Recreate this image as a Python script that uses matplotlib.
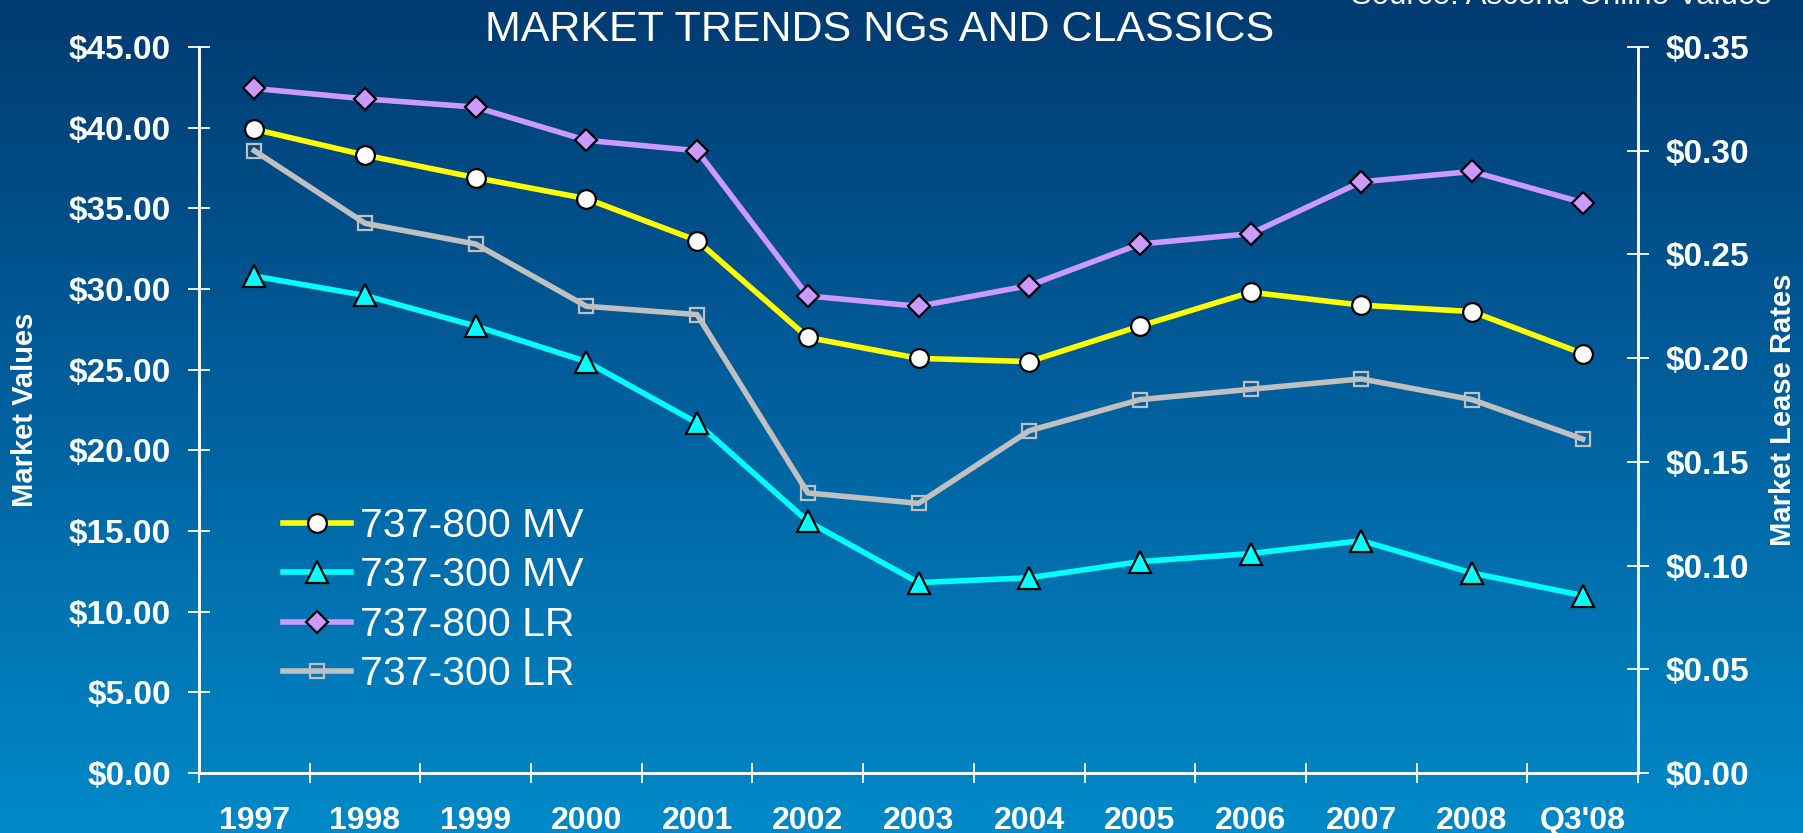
import numpy as np
import matplotlib
matplotlib.use("Agg")
import matplotlib.pyplot as plt
from matplotlib.colors import LinearSegmentedColormap

# ---- data ----
categories = ["1997", "1998", "1999", "2000", "2001", "2002", "2003",
              "2004", "2005", "2006", "2007", "2008", "Q3'08"]
mv_800 = [39.9, 38.3, 36.9, 35.6, 33.0, 27.0, 25.7, 25.5, 27.7, 29.8, 29.0, 28.6, 26.0]
mv_300 = [30.8, 29.6, 27.7, 25.5, 21.7, 15.6, 11.8, 12.1, 13.1, 13.6, 14.4, 12.4, 11.0]
lr_800 = [0.330, 0.325, 0.321, 0.305, 0.300, 0.230, 0.225, 0.235, 0.255, 0.260, 0.285, 0.290, 0.275]
lr_300 = [0.300, 0.265, 0.255, 0.225, 0.221, 0.135, 0.130, 0.165, 0.180, 0.185, 0.190, 0.180, 0.161]
left_ticks = [0, 5, 10, 15, 20, 25, 30, 35, 40, 45]
right_ticks = [0.0, 0.05, 0.10, 0.15, 0.20, 0.25, 0.30, 0.35]
series_labels = ["737-800 MV", "737-300 MV", "737-800 LR", "737-300 LR"]

W, H = 1803, 833
fig = plt.figure(figsize=(W / 100, H / 100), dpi=100)

# background gradient
bg = fig.add_axes([0, 0, 1, 1], zorder=-10)
cmap = LinearSegmentedColormap.from_list("bg", ["#003B71", "#00619F", "#0089C8"])
grad = np.linspace(0, 1, 256).reshape(-1, 1)
bg.imshow(grad, aspect="auto", cmap=cmap, extent=[0, 1, 0, 1], origin="upper")
bg.set_axis_off()

left, right, bottom, top = 199 / W, 1638 / W, 1 - 773 / H, 1 - 47 / H
ax = fig.add_axes([left, bottom, right - left, top - bottom])
ax.set_facecolor("none")
ax2 = ax.twinx()
ax2.set_facecolor("none")

x = np.arange(len(categories))
lw = 4.0
h1, = ax.plot(x, mv_800, color="#FFFF00", lw=lw, marker="o", ms=13.5,
              mfc="white", mec="black", mew=1.6, label=series_labels[0], zorder=3)
h2, = ax.plot(x, mv_300, color="#00FFFF", lw=lw, marker="^", ms=16,
              mfc="#00FFFF", mec="black", mew=1.6, label=series_labels[1], zorder=3)
h3, = ax2.plot(x, lr_800, color="#CC99FF", lw=lw, marker="D", ms=11,
               mfc="#CC99FF", mec="black", mew=1.6, label=series_labels[2], zorder=3)
h4, = ax2.plot(x, lr_300, color="#C0C0C0", lw=lw, marker="s", ms=10.5,
               mfc="none", mec="#C0C0C0", mew=1.6, label=series_labels[3], zorder=3)

ax.set_xlim(-0.5, len(categories) - 0.5)
ax.set_ylim(0, 45)
ax2.set_ylim(0, 0.35)

ytick_font = dict(family="Liberation Sans", weight="bold", size=24)
xtick_font = dict(family="Liberation Sans", weight="bold", size=23)
ax.set_yticks(left_ticks)
ax.set_yticklabels(["${:.2f}".format(v) for v in left_ticks], color="white", **ytick_font)
ax2.set_yticks(right_ticks)
ax2.set_yticklabels(["${:.2f}".format(v) for v in right_ticks], color="white", **ytick_font)

ax.set_xticks(np.arange(-0.5, len(categories), 1.0))
ax.set_xticklabels([])
ax.set_xticks(x, minor=True)
ax.set_xticklabels(categories, minor=True, color="white", **xtick_font)
ax.tick_params(axis="x", which="major", direction="inout", length=15, width=1.3, color="white")
ax.tick_params(axis="x", which="minor", length=0, pad=24)
ax.tick_params(axis="y", direction="inout", length=16, width=1.3, color="white", pad=12)
ax2.tick_params(axis="y", direction="inout", length=16, width=1.3, color="white", pad=12)

for a in (ax, ax2):
    a.spines["top"].set_visible(False)
    for s in ("left", "right", "bottom"):
        a.spines[s].set_color("white")
        a.spines[s].set_linewidth(1.8)

lab_font = dict(family="Liberation Sans", weight="bold", size=21, color="white")
fig.text(25 / W, 0.5 * (top + bottom), "Market Values", rotation=90,
         ha="center", va="center", **lab_font)
fig.text(1783 / W, 0.5 * (top + bottom), "Market Lease Rates", rotation=90,
         ha="center", va="center", **lab_font)

fig.text(880 / W, 1 - 41 / H, "MARKET TRENDS NGs AND CLASSICS", ha="center",
         va="baseline", color="white", family="Liberation Sans", size=31)
fig.text(1351 / W, 1 - 4 / H, "Source: Ascend Online Values", ha="left",
         va="baseline", color="white", family="Liberation Sans", size=22.5)

leg = ax2.legend(handles=[h1, h2, h3, h4], loc="upper left",
                 bbox_to_anchor=(283 / W, 1 - 507 / H), bbox_transform=fig.transFigure,
                 frameon=False, borderpad=0, borderaxespad=0,
                 handlelength=1.65, handletextpad=0.22, labelspacing=0.28,
                 prop=dict(family="Liberation Sans", size=29.5))
for t in leg.get_texts():
    t.set_color("white")

fig.savefig("out.png", dpi=100)
